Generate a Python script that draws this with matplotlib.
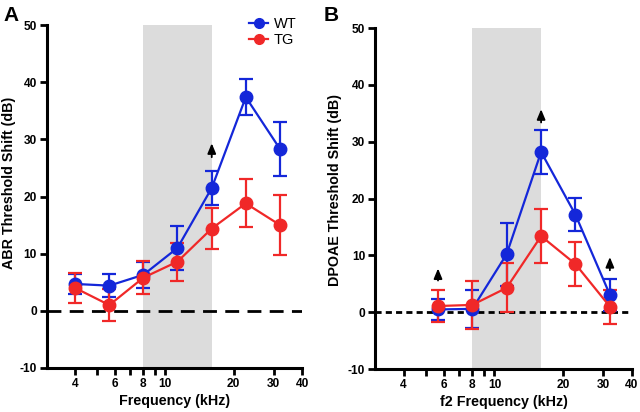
import matplotlib
matplotlib.use("Agg")
import matplotlib.pyplot as plt
from matplotlib.ticker import FixedLocator, NullFormatter
from matplotlib.lines import Line2D

plt.rcParams['font.family'] = ['Liberation Sans', 'DejaVu Sans']

# Panel A: ABR
freq_a = [4, 5.66, 8, 11.3, 16, 22.6, 32]
wt_a = [4.7, 4.4, 6.3, 11.0, 21.5, 37.4, 28.3]
wt_a_err = [1.8, 2.0, 2.3, 3.8, 3.0, 3.2, 4.7]
tg_a = [4.0, 1.0, 5.8, 8.6, 14.4, 18.8, 15.0]
tg_a_err = [2.7, 2.8, 2.9, 3.3, 3.6, 4.2, 5.2]
arrows_a = [(16, 26.4, 29.8)]

# Panel B: DPOAE
freq_b = [5.66, 8, 11.3, 16, 22.6, 32]
wt_b = [0.5, 0.6, 10.2, 28.2, 17.2, 3.1]
wt_b_err = [1.8, 3.3, 5.5, 3.9, 2.9, 2.8]
tg_b = [1.1, 1.3, 4.3, 13.4, 8.5, 1.0]
tg_b_err = [2.8, 4.2, 4.3, 4.7, 3.9, 3.0]
arrows_b = [(5.66, 5.1, 8.2), (16, 32.9, 36.2), (32, 6.9, 10.2)]

shade = (8, 16)
major_ticks = [4, 6, 8, 10, 20, 30, 40]
minor_ticks = [5, 7, 9]
yticks = [-10, 0, 10, 20, 30, 40, 50]

BLUE = '#1427d9'
RED = '#f02828'
GRAY = '#dcdcdc'

fig = plt.figure(figsize=(6.4, 4.12), dpi=100)
axA = fig.add_axes([0.073, 0.107, 0.399, 0.832])
axB = fig.add_axes([0.586, 0.104, 0.4015, 0.828])


def style(ax, xlabel, ylabel, dash, ylab_pos):
    ax.set_xscale('log')
    ax.set_xlim(3, 40)
    ax.set_ylim(-10, 50)
    ax.axvspan(shade[0], shade[1], color=GRAY, lw=0, zorder=0)
    ax.axhline(0, color='black', lw=2, ls=dash, zorder=1)
    ax.xaxis.set_major_locator(FixedLocator(major_ticks))
    ax.set_xticklabels([str(t) for t in major_ticks])
    ax.xaxis.set_minor_locator(FixedLocator(minor_ticks))
    ax.xaxis.set_minor_formatter(NullFormatter())
    ax.set_yticks(yticks)
    ax.set_yticklabels([str(t) for t in yticks])
    for s in ['top', 'right']:
        ax.spines[s].set_visible(False)
    for s in ['left', 'bottom']:
        ax.spines[s].set_linewidth(2.2)
    ax.tick_params(axis='both', which='major', length=5, width=2, labelsize=8.6, pad=2)
    ax.tick_params(axis='both', which='minor', length=5, width=2)
    for lbl in ax.get_xticklabels() + ax.get_yticklabels():
        lbl.set_fontweight('bold')
    ax.set_xlabel(xlabel, fontsize=10.3, fontweight='bold', labelpad=3)
    ax.set_ylabel(ylabel, fontsize=10.3, fontweight='bold', labelpad=4)
    ax.yaxis.set_label_coords(ylab_pos[0], ylab_pos[1])


def series(ax, x, y, e, color):
    ax.errorbar(x, y, yerr=e, color=color, lw=1.6, marker='o', ms=9,
                capsize=5, capthick=1.6, elinewidth=1.6, zorder=3)


def arrows(ax, arr):
    for (x, y0, y1) in arr:
        ax.annotate('', xy=(x, y1), xytext=(x, y0),
                    arrowprops=dict(arrowstyle='-|>,head_length=0.6,head_width=0.25',
                                    color='black', lw=1.3), zorder=5)


style(axA, 'Frequency (kHz)', 'ABR Threshold Shift (dB)', (0, (5, 3)), (-0.12, 0.54))
series(axA, freq_a, wt_a, wt_a_err, BLUE)
series(axA, freq_a, tg_a, tg_a_err, RED)
arrows(axA, arrows_a)
handles = [Line2D([], [], color=BLUE, lw=1.6, marker='o', ms=7),
           Line2D([], [], color=RED, lw=1.6, marker='o', ms=7)]
axA.legend(handles, ['WT', 'TG'], loc='upper right', bbox_to_anchor=(1.0, 1.04),
           frameon=False, fontsize=10.5, handlelength=1.3, handletextpad=0.35,
           labelspacing=0.15, borderaxespad=0)

style(axB, 'f2 Frequency (kHz)', 'DPOAE Threshold Shift (dB)', (0, (2.2, 1.5)), (-0.13, 0.525))
series(axB, freq_b, wt_b, wt_b_err, BLUE)
series(axB, freq_b, tg_b, tg_b_err, RED)
arrows(axB, arrows_b)

fig.text(0.005, 0.985, 'A', fontsize=15, fontweight='bold', va='top', ha='left')
fig.text(0.505, 0.985, 'B', fontsize=15, fontweight='bold', va='top', ha='left')

fig.savefig('out.png', dpi=100)
